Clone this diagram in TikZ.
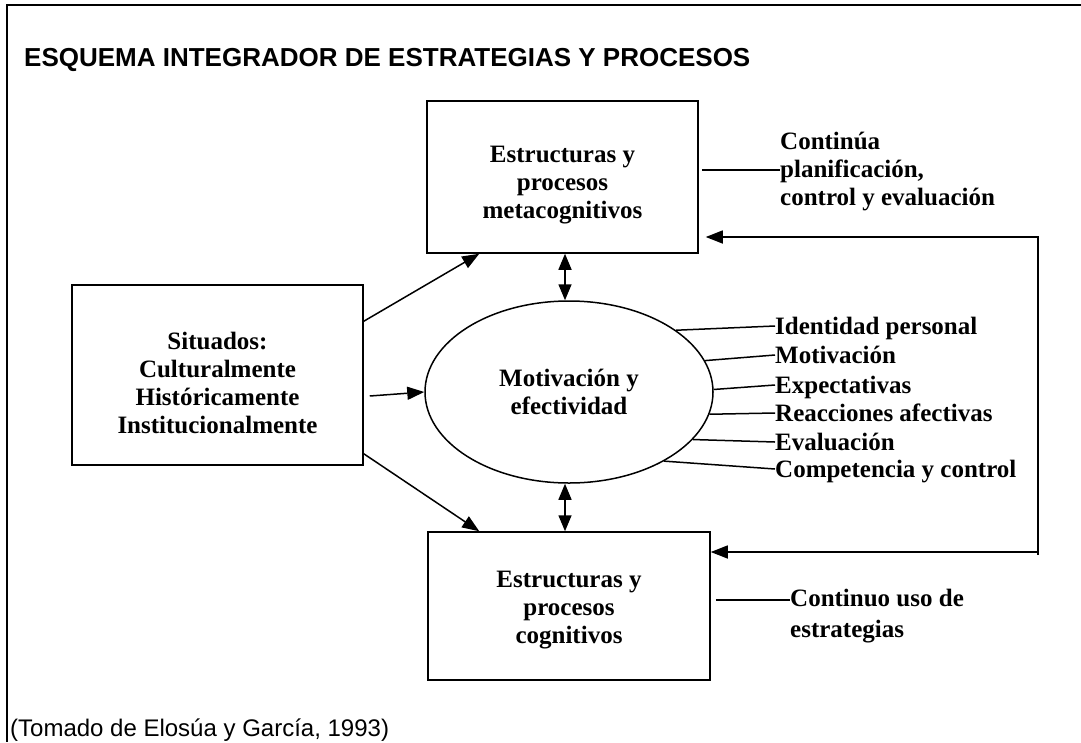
\documentclass[tikz,border=0pt]{standalone}
\usepackage{fontspec}
\setmainfont{Liberation Serif}
\newfontfamily\arialf{Liberation Sans}
\usetikzlibrary{shapes.geometric,arrows.meta,calc}
\begin{document}
\begin{tikzpicture}[x=1pt,y=-1pt,
  body/.style={font=\fontsize{25}{28}\selectfont\bfseries},
  boxnode/.style={draw,line width=1.5pt,inner sep=0pt},
  boxtext/.style={body,align=center,inner sep=0pt},
  lab/.style={body,inner sep=0pt,anchor=west,text height=18pt,text depth=2pt},
  conn/.style={line width=1.5pt},
  arr/.style={line width=1.5pt,-{Triangle[length=17pt,width=13pt]}},
  darr/.style={line width=1.5pt,{Triangle[length=16pt,width=13pt]}-{Triangle[length=16pt,width=13pt]}}]
\useasboundingbox (0,0) rectangle (1081,742);
% frame
\draw[line width=2pt] (1081,5) -- (7,5) -- (7,742);
% title and source
\node[anchor=base west,inner sep=0pt,font=\arialf\bfseries\fontsize{26}{30}\selectfont] (title) at (24,66) {ESQUEMA INTEGRADOR DE ESTRATEGIAS Y PROCESOS};
\node[anchor=base west,inner sep=0pt,font=\arialf\fontsize{24}{28}\selectfont] (src) at (10,736) {(Tomado de Elosúa y García, 1993)};
% main nodes
\node[boxnode,minimum width=271pt,minimum height=152pt] (meta) at (562.5,177) {};
\node[boxtext] (metaT) at ($(meta.center)+(0,8)$) {Estructuras y\\procesos\\metacognitivos};
\node[boxnode,minimum width=291pt,minimum height=180pt] (situ) at (217.5,375) {};
\node[boxtext] (situT) at ($(situ.center)+(0,8)$) {Situados:\\Culturalmente\\Históricamente\\Institucionalmente};
\node[draw,ellipse,line width=1.5pt,body,align=center,inner sep=0pt,minimum width=288pt,minimum height=182pt] (ell) at (569,392) {Motivación y\\efectividad};
\node[boxnode,minimum width=282pt,minimum height=148pt] (cog) at (569,606) {};
\node[boxtext] (cogT) at ($(cog.center)+(0,4)$) {Estructuras y\\procesos\\cognitivos};
% arrows from situ
\draw[arr] ($(situ.north east)+(0,37)$) -- ($(meta.south west)+(53,0)$);
\draw[arr] ($(situ.east)+(6,21)$) -- (ell.west);
\draw[arr] ($(situ.south east)+(0,-12)$) -- ($(cog.north west)+(52,0)$);
% double arrows
\coordinate (dA) at (565,0);
\draw[darr] (meta.south -| dA) -- (ell.north -| dA);
\draw[darr] (ell.south -| dA) -- (cog.north -| dA);
% meta label
\node[body,align=left,anchor=west,inner sep=0pt] (cont) at (780,172) {Continúa\\planificación,\\control y evaluación};
\coordinate (contL) at (780,170);
\draw[conn,shorten <=3pt] (meta.east |- contL) -- (contL);
% feedback loop
\coordinate (fbT) at (1038,237);
\coordinate (fbB) at (1038,552);
\draw[conn] ($(fbT)+(0,-0.75)$) -- ($(fbB)+(0,3)$);
\draw[arr,shorten >=7pt] (fbT) -- (meta.east |- fbT);
\draw[arr] (fbB) -- (cog.east |- fbB);
% cognitive label
\node[body,align=left,anchor=north west,inner sep=0pt,font=\fontsize{25}{31}\selectfont\bfseries] (cu) at (790,589) {Continuo uso de\\estrategias};
\coordinate (cuL) at (790,600);
\draw[conn,shorten <=5pt] (cog.east |- cuL) -- (cuL);
% ellipse labels
\node[lab] (l1) at (775,326) {Identidad personal};
\node[lab] (l2) at (775,355) {Motivación};
\node[lab] (l3) at (775,385) {Expectativas};
\node[lab] (l4) at (775,413) {Reacciones afectivas};
\node[lab] (l5) at (775,442) {Evaluación};
\node[lab] (l6) at (775,469) {Competencia y control};
\draw[conn] (ell.30.6) -- (l1.west);
\draw[conn] (ell.13.3) -- (l2.west);
\draw[conn] (ell.1.6) -- (l3.west);
\draw[conn] (ell.-9.4) -- (l4.west);
\draw[conn] (ell.-21.5) -- (l5.west);
\draw[conn] (ell.-36.3) -- (l6.west);
\end{tikzpicture}
\end{document}
